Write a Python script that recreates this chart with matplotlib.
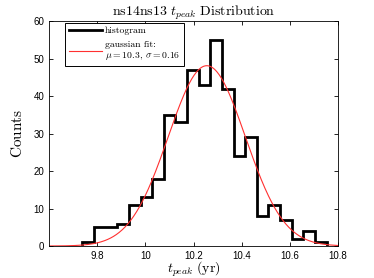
import numpy as np
import matplotlib
matplotlib.use("Agg")
from matplotlib import pyplot as plt

# histogram of t_peak (400 samples, 21 bins)
bin_edges = np.linspace(9.739, 10.752, 22)
counts = [1, 5, 5, 6, 11, 13, 18, 35, 33, 47, 43, 55, 42, 24, 29, 8, 11, 7, 2, 4, 1]

# gaussian fit
mu = 10.255
sigma = 0.16
n_samples = 400

plt.rcParams['mathtext.fontset'] = 'cm'
plt.rcParams['font.family'] = ['Liberation Sans', 'DejaVu Sans']

fig = plt.figure(figsize=(3.74, 2.78), dpi=100)
ax = fig.add_axes([0.131, 0.115, 0.773, 0.809])

ax.stairs(counts, bin_edges, baseline=0, color='black', lw=2, label='histogram')

x = np.linspace(9.6, 10.8, 400)
bw = bin_edges[1] - bin_edges[0]
y = n_samples * bw / (sigma * np.sqrt(2 * np.pi)) * np.exp(-(x - mu) ** 2 / (2 * sigma ** 2))
ax.plot(x, y, color='#ff3030', lw=0.8,
        label='gaussian fit:\n$\\mu = 10.3$, $\\sigma = 0.16$')

ax.set_xlim(9.6, 10.8)
ax.set_ylim(0, 60)
ax.set_xticks([9.8, 10, 10.2, 10.4, 10.6, 10.8])
ax.set_xticklabels(['9.8', '10', '10.2', '10.4', '10.6', '10.8'])
ax.set_yticks([0, 10, 20, 30, 40, 50, 60])
ax.tick_params(direction='in', top=True, right=True, length=3, width=0.6, labelsize=7)
for s in ax.spines.values():
    s.set_linewidth(0.6)

ax.set_title('$\\mathrm{ns14ns13}\\ t_{peak}\\ \\mathrm{Distribution}$', fontsize=10, pad=4)
ax.set_xlabel('$t_{peak}\\ \\mathrm{(yr)}$', fontsize=10, va='top')
ax.xaxis.set_label_coords(0.5, -0.062)
ax.set_ylabel('$\\mathrm{Counts}$', fontsize=11, labelpad=6)

leg = ax.legend(loc='upper left', fontsize=7, handlelength=3.4, fancybox=False,
                edgecolor='black', framealpha=1, borderaxespad=0.2,
                handletextpad=0.3, labelspacing=0.5, borderpad=0.35,
                bbox_to_anchor=(0.05, 1.0))
leg.get_frame().set_linewidth(0.7)
for t in leg.get_texts():
    t.set_family('cmr10')

fig.savefig('out.png', dpi=100)
